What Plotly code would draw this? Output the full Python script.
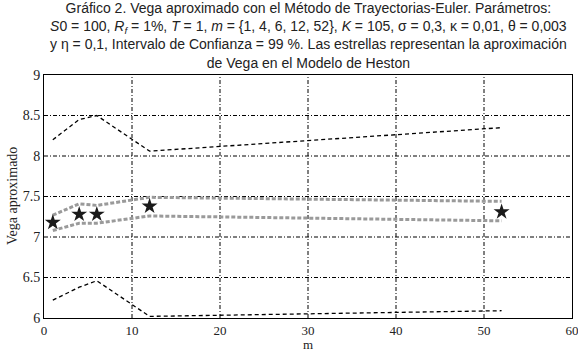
import plotly.graph_objects as go

m = [1, 4, 6, 12, 52]
upper_black = [8.20, 8.45, 8.50, 8.06, 8.35]
lower_black = [6.22, 6.38, 6.46, 6.02, 6.09]
upper_gray = [7.27, 7.41, 7.39, 7.49, 7.44]
lower_gray = [7.08, 7.17, 7.17, 7.26, 7.20]
heston = [7.18, 7.28, 7.28, 7.38, 7.31]

x_ticks = [0, 10, 20, 30, 40, 50, 60]
y_ticks = [6, 6.5, 7, 7.5, 8, 8.5, 9]

serif = dict(family="Liberation Serif, Times New Roman", size=14, color="#222")
serif13 = dict(family="Liberation Serif, Times New Roman", size=13, color="#222")

fig = go.Figure()
for ys in (upper_black, lower_black):
    fig.add_trace(go.Scatter(x=m, y=ys, mode="lines",
                             line=dict(color="black", width=1.3, dash="4px,3px"),
                             showlegend=False))
for ys in (upper_gray, lower_gray):
    fig.add_trace(go.Scatter(x=m, y=ys, mode="lines",
                             line=dict(color="#9a9a9a", width=3, dash="4px,2px"),
                             showlegend=False))
fig.add_trace(go.Scatter(x=m, y=heston, mode="markers",
                         marker=dict(symbol="star", size=12, color="#1a1a1a",
                                     line=dict(width=0)),
                         showlegend=False, cliponaxis=False))

grid_shapes = []
for xv in x_ticks[1:-1]:
    grid_shapes.append(dict(type="line", xref="x", yref="paper", x0=xv, x1=xv, y0=0, y1=1,
                            line=dict(color="black", width=1, dash="4px,2px,1px,2px"), layer="below"))
for yv in y_ticks[1:-1]:
    grid_shapes.append(dict(type="line", xref="paper", yref="y", x0=0, x1=1, y0=yv, y1=yv,
                            line=dict(color="black", width=1, dash="4px,2px,1px,2px"), layer="below"))

title = ("Gráfico 2. Vega aproximado con el Método de Trayectorias-Euler. Parámetros:<br>"
         "<i>S</i>0 = 100, <i>R<sub>f</sub></i> = 1%, <i>T</i> = 1, <i>m</i> = {1, 4, 6, 12, 52}, "
         "<i>K</i> = 105, σ = 0,3, κ = 0,01, θ = 0,003<br>"
         "y η = 0,1, Intervalo de Confianza = 99 %. Las estrellas representan la aproximación<br>"
         "de Vega en el Modelo de Heston")

fig.update_layout(
    width=578, height=352,
    margin=dict(l=44, r=6, t=75, b=34),
    paper_bgcolor="white", plot_bgcolor="white",
    shapes=grid_shapes,
    annotations=[
        dict(text=title, xref="paper", yref="paper", x=0.5, y=1, xanchor="center",
             yanchor="bottom", yshift=2, showarrow=False, align="center",
             font=dict(family="Liberation Sans, Arial", size=14, color="#222")),
        dict(text="m", xref="paper", yref="paper", x=0.5, y=0, xanchor="center",
             yanchor="top", yshift=-18, borderpad=0, showarrow=False, font=serif13),
        dict(text="Vega aproximado", xref="paper", yref="paper", x=0, y=0.5, xanchor="right",
             yanchor="middle", xshift=-22, textangle=-90, showarrow=False, font=serif),
    ],
    xaxis=dict(range=[0, 60], tickvals=x_ticks, showgrid=False, zeroline=False,
               showline=True, linecolor="black", linewidth=1, mirror=True, automargin=False,
               ticklabeloverflow="allow", ticks="", tickfont=serif13, ticklabelstandoff=0),
    yaxis=dict(range=[6, 9], tickvals=y_ticks, ticktext=["6", "6.5", "7", "7.5", "8", "8.5", "9"],
               showgrid=False, zeroline=False, automargin=False, ticklabeloverflow="allow",
               showline=True, linecolor="black", linewidth=1, mirror=True,
               ticks="", tickfont=serif),
)

fig.write_html("out.html")
